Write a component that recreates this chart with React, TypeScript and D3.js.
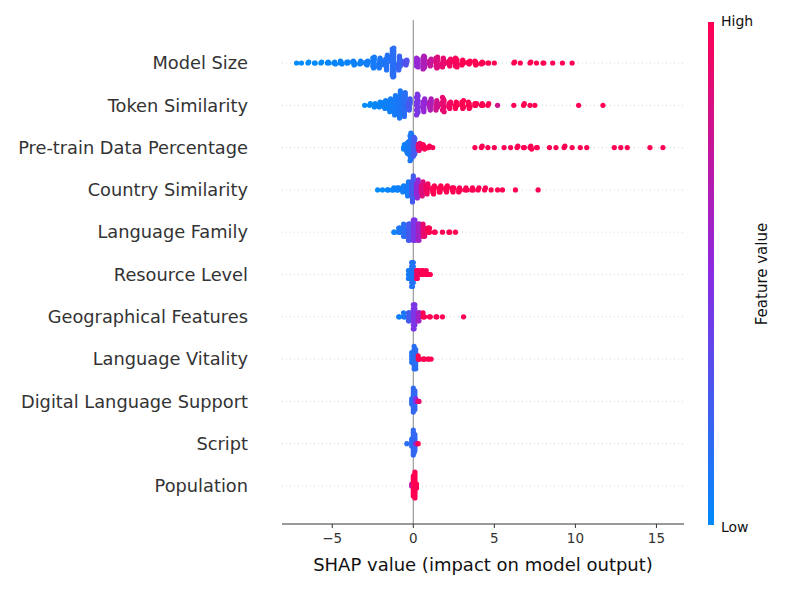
import * as d3 from "d3";

// [shap value, number of dots, feature value 0..1]
type Group = [number, number, number];

const features = [
  "Model Size", "Token Similarity", "Pre-train Data Percentage", "Country Similarity",
  "Language Family", "Resource Level", "Geographical Features", "Language Vitality",
  "Digital Language Support", "Script", "Population",
];

const modelSize: Group[] = [
  [-7.2,1,0],[-6.9,1,0],[-6.5,2,0],[-6.1,2,0],[-5.7,2,0],[-5.3,3,0.02],[-4.9,3,0.02],[-4.5,4,0.03],
  [-4.1,4,0.03],[-3.7,5,0.05],[-3.3,6,0.05],[-2.9,8,0.06],[-2.5,12,0.08],[-2.1,16,0.1],[-1.7,24,0.12],
  [-1.3,30,0.15],[-0.9,22,0.2],[-0.5,10,0.3],[0.2,10,0.55],[0.6,14,0.65],[1.0,12,0.75],[1.4,12,0.85],
  [1.8,14,0.9],[2.2,12,0.95],[2.6,10,0.97],[3.0,8,1],[3.4,6,1],[3.8,5,1],[4.2,4,1],[4.6,2,1],[5.0,1,1],
  [6.2,2,1],[6.6,1,1],[7.2,2,1],[7.6,1,1],[8.0,2,1],[8.6,1,1],[9.2,1,1],[9.8,1,1],
];
const tokenSimilarity: Group[] = [
  [-3.0,1,0],[-2.7,2,0],[-2.4,4,0.02],[-2.1,6,0.03],[-1.8,10,0.05],[-1.5,14,0.06],[-1.2,20,0.08],
  [-0.9,28,0.1],[-0.6,24,0.15],[-0.3,12,0.25],[0.2,14,0.45],[0.6,14,0.55],[1.0,12,0.65],[1.4,10,0.8],
  [1.8,10,0.9],[2.2,8,0.95],[2.6,7,1],[3.0,6,1],[3.4,5,1],[3.8,4,1],[4.2,3,1],[4.6,2,1],[5.2,1,0.8],
  [6.2,1,1],[6.8,2,1],[7.2,1,1],[7.5,1,1],[10.2,1,1],[11.7,1,1],
];
const pretrain: Group[] = [
  [-0.6,6,0.05],[-0.4,14,0.08],[-0.2,20,0.1],[0.0,14,0.25],[0.3,6,0.9],[0.6,4,1],[0.9,3,1],[1.2,1,1],
  [3.8,1,1],[4.2,2,1],[4.6,1,1],[5.0,1,1],[5.6,1,1],[6.0,1,1],[6.4,2,1],[6.8,2,1],[7.2,3,1],[7.6,2,1],
  [8.4,1,1],[8.8,1,1],[9.3,2,1],[9.8,1,1],[10.3,1,1],[10.7,1,1],[12.4,1,1],[12.8,1,1],[13.2,1,1],
  [14.6,1,1],[15.4,1,1],
];
const countrySimilarity: Group[] = [
  [-2.2,1,0],[-1.9,1,0],[-1.6,2,0.02],[-1.3,3,0.03],[-1.0,4,0.05],[-0.7,6,0.06],[-0.4,12,0.08],
  [-0.1,22,0.25],[0.2,16,0.55],[0.5,12,0.85],[0.8,10,0.95],[1.2,8,1],[1.6,7,1],[2.0,6,1],[2.4,5,1],
  [2.8,4,1],[3.2,3,1],[3.6,3,1],[4.0,2,1],[4.4,2,1],[4.8,1,1],[5.2,1,1],[5.5,1,1],[6.3,1,1],[7.7,1,1],
];
const languageFamily: Group[] = [
  [-1.2,2,0.05],[-0.9,6,0.1],[-0.6,10,0.15],[-0.3,14,0.25],[0.0,18,0.45],[0.3,14,0.6],[0.6,10,0.9],
  [0.9,6,1],[1.3,2,1],[1.8,1,1],[2.2,2,1],[2.6,1,1],
];
const resourceLevel: Group[] = [
  [-0.3,8,0.08],[-0.1,20,0.12],[0.2,8,0.95],[0.5,6,1],[0.8,4,1],[1.0,2,1],
];
const geographical: Group[] = [
  [-0.9,2,0.05],[-0.6,4,0.1],[-0.3,8,0.25],[0.0,20,0.45],[0.3,8,0.6],[0.6,4,1],[1.0,2,1],[1.4,2,1],
  [1.8,1,1],[3.1,1,1],
];
const vitality: Group[] = [
  [-0.1,10,0.12],[0.05,22,0.15],[0.3,4,1],[0.6,3,1],[0.9,2,1],[1.1,1,1],
];
const digital: Group[] = [
  [-0.1,8,0.15],[0.0,24,0.18],[0.15,4,0.5],[0.3,2,0.9],
];
const script: Group[] = [
  [-0.4,1,0.15],[-0.1,10,0.15],[0.0,26,0.18],[0.15,3,0.6],[0.3,1,1],
];
const population: Group[] = [
  [-0.1,4,0.7],[0.0,30,1],[0.1,10,1],
];

const rows = [modelSize, tokenSimilarity, pretrain, countrySimilarity, languageFamily, resourceLevel,
  geographical, vitality, digital, script, population];

const xTicks = [-5, 0, 5, 10, 15];

const color = d3.scaleLinear<string>()
  .domain([0, 0.5, 1])
  .range(["#008afb", "#8a2be2", "#ff0052"])
  .interpolate(d3.interpolateRgb);

export default function App() {
  const W = 800, H = 590;
  const x = d3.scaleLinear().domain([-8.1, 16.7]).range([282, 684]);
  const y = d3.scaleLinear().domain([0, features.length - 1]).range([63, 486]);
  const rowH = 42.3 * 0.42;

  const dots = rows.flatMap((groups, r) => {
    const pts = groups.flatMap(([s, n, f]) => d3.range(n).map((k) => ({ s: s + (k % 3) * 0.05, f })));
    const nbins = 100;
    const ext = d3.extent(pts, (p) => p.s) as [number, number];
    const span = ext[1] - ext[0] || 1;
    const binned = d3.group(pts, (p) => Math.round(((p.s - ext[0]) / span) * nbins));
    const out: { s: number; f: number; off: number }[] = [];
    let maxOff = 0;
    binned.forEach((list) => {
      list.sort((a, b) => a.f - b.f);
      list.forEach((p, i) => {
        const off = Math.ceil(i / 2) * (i % 2 === 0 ? 1 : -1);
        maxOff = Math.max(maxOff, Math.abs(off));
        out.push({ ...p, off });
      });
    });
    const scale = (0.9 * rowH) / (maxOff + 1);
    return out.map((p) => ({ cx: x(p.s), cy: y(r) + p.off * scale, f: p.f }));
  });

  const font = "DejaVu Sans, sans-serif";
  return (
    <svg width={W} height={H} style={{ position: "absolute", left: 0, top: 0 }} fontFamily={font}>
      <rect width={W} height={H} fill="#fff" />
      {features.map((name, i) => (
        <g key={name}>
          <line x1={282} x2={684} y1={y(i)} y2={y(i)} stroke="#ccc" strokeDasharray="1 3" strokeWidth={0.8} />
          <text x={248} y={y(i)} dy="0.35em" textAnchor="end" fontSize={17.8} fill="#333">{name}</text>
        </g>
      ))}
      <line x1={x(0)} x2={x(0)} y1={20} y2={524} stroke="#999" strokeWidth={1.2} />
      {dots.map((d, i) => (
        <circle key={i} cx={d.cx} cy={d.cy} r={2.6} fill={color(d.f)} />
      ))}
      <line x1={282} x2={684} y1={524} y2={524} stroke="#333" strokeWidth={1} />
      {xTicks.map((t) => (
        <g key={t} transform={`translate(${x(t)},524)`}>
          <line y2={4} stroke="#333" />
          <text y={19} textAnchor="middle" fontSize={13.5} fill="#333">{t < 0 ? `\u2212${-t}` : t}</text>
        </g>
      ))}
      <text x={483} y={571} textAnchor="middle" fontSize={18} fill="#111">SHAP value (impact on model output)</text>
      <defs>
        <linearGradient id="cb" x1="0" y1="1" x2="0" y2="0">
          {d3.range(0, 1.01, 0.1).map((t) => (
            <stop key={t} offset={t} stopColor={color(t)} />
          ))}
        </linearGradient>
      </defs>
      <rect x={708} y={22} width={6} height={503} fill="url(#cb)" />
      <text x={721} y={26} fontSize={14} fill="#111">High</text>
      <text x={721} y={532} fontSize={14} fill="#111">Low</text>
      <text transform="translate(767,274) rotate(-90)" textAnchor="middle" fontSize={15} fill="#111">Feature value</text>
    </svg>
  );
}
